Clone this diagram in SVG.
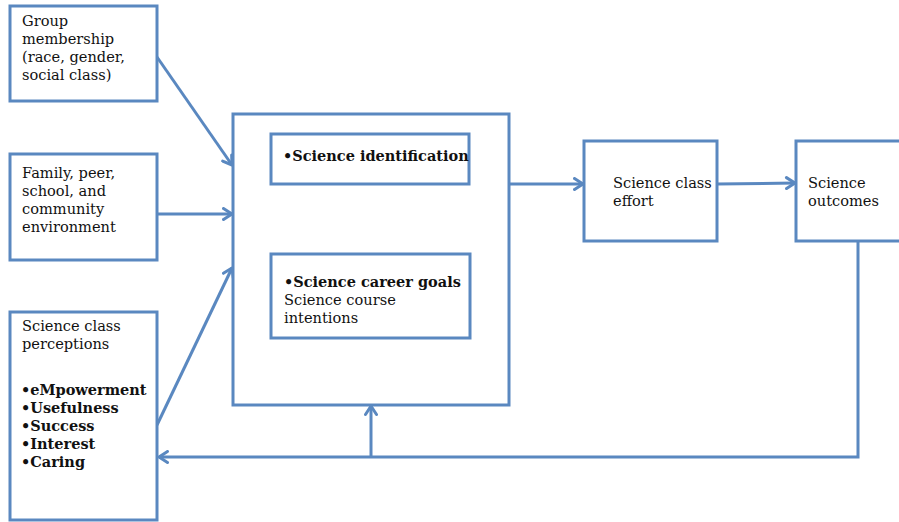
<svg xmlns="http://www.w3.org/2000/svg" width="899" height="522" viewBox="0 0 899 522">
  <style>
    .box { fill: #ffffff; stroke: #5a88c0; stroke-width: 3; }
    .line { fill: none; stroke: #5a88c0; stroke-width: 3; }
    text { font-family: "DejaVu Serif", "Liberation Serif", serif; font-size: 14.6px; fill: #111111; }
    .b { font-weight: bold; font-size: 14.5px; }
  </style>
  <defs>
    <marker id="head" viewBox="0 0 12 14" refX="10.5" refY="7" markerWidth="12" markerHeight="14" markerUnits="userSpaceOnUse" orient="auto-start-reverse">
      <polyline points="2,1.5 10.5,7 2,12.5" fill="none" stroke="#5a88c0" stroke-width="3" stroke-linecap="round" stroke-linejoin="round"/>
    </marker>
  </defs>

  <!-- connectors -->
  <g id="connectors">
    <line class="line" x1="157" y1="57" x2="232" y2="165" marker-end="url(#head)"/>
    <line class="line" x1="157" y1="214" x2="232" y2="214" marker-end="url(#head)"/>
    <line class="line" x1="157" y1="425" x2="232" y2="268" marker-end="url(#head)"/>
    <line class="line" x1="509" y1="184" x2="583" y2="184" marker-end="url(#head)"/>
    <line class="line" x1="717" y1="184" x2="795" y2="183" marker-end="url(#head)"/>
    <line class="line" x1="371" y1="185" x2="371" y2="253" marker-start="url(#head)" marker-end="url(#head)"/>
    <polyline class="line" points="858,241 858,457 159,457" marker-end="url(#head)"/>
    <line class="line" x1="371" y1="457" x2="371" y2="406" marker-end="url(#head)"/>
  </g>

  <g id="group-membership">
    <rect class="box" x="10" y="6" width="147" height="95"/>
    <text x="22" y="26">Group</text>
    <text x="22" y="44">membership</text>
    <text x="22" y="62">(race, gender,</text>
    <text x="22" y="80">social class)</text>
  </g>

  <g id="environment">
    <rect class="box" x="10" y="154" width="147" height="106"/>
    <text x="22" y="178">Family, peer,</text>
    <text x="22" y="196">school, and</text>
    <text x="22" y="214">community</text>
    <text x="22" y="232">environment</text>
  </g>

  <g id="perceptions">
    <rect class="box" x="10" y="312" width="147" height="208"/>
    <text x="22" y="331">Science class</text>
    <text x="22" y="349">perceptions</text>
    <text class="b" x="21" y="395">•eMpowerment</text>
    <text class="b" x="21" y="413">•Usefulness</text>
    <text class="b" x="21" y="431">•Success</text>
    <text class="b" x="21" y="449">•Interest</text>
    <text class="b" x="21" y="467">•Caring</text>
  </g>

  <g id="identity">
    <rect class="box" x="233" y="114" width="276" height="291"/>
  </g>

  <g id="identification">
    <rect class="box" x="271" y="134" width="198" height="50"/>
    <text class="b" x="283" y="161">•Science identification</text>
  </g>

  <g id="career-goals">
    <rect class="box" x="271" y="254" width="199" height="84"/>
    <text class="b" x="284" y="287">•Science career goals</text>
    <text x="284" y="305">Science course</text>
    <text x="284" y="323">intentions</text>
  </g>

  <g id="effort">
    <rect class="box" x="584" y="141" width="133" height="100"/>
    <text x="613" y="188">Science class</text>
    <text x="613" y="206">effort</text>
  </g>

  <g id="outcomes">
    <rect class="box" x="796" y="141" width="110" height="100"/>
    <text x="808" y="188">Science</text>
    <text x="808" y="206">outcomes</text>
  </g>
</svg>
